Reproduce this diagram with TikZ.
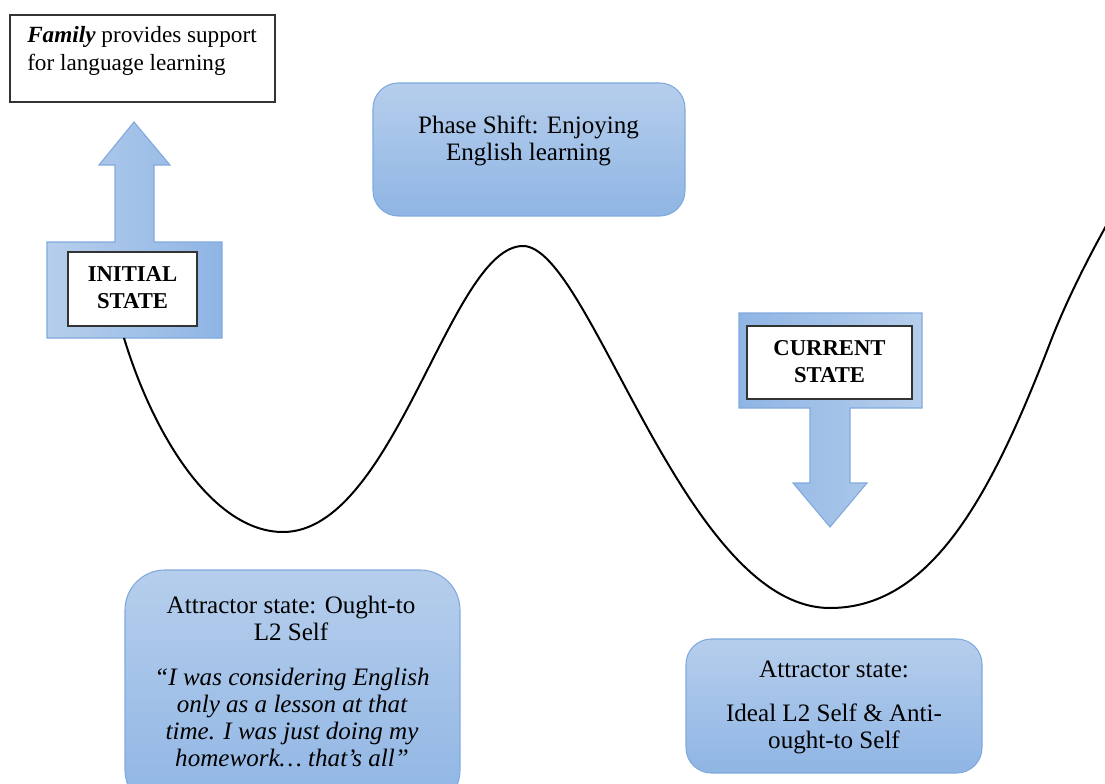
\documentclass[tikz,border=0pt]{standalone}
\usepackage{fontspec}
\setmainfont{Liberation Serif}
\definecolor{bxlight}{RGB}{182,206,236}
\definecolor{bxdark}{RGB}{143,181,228}
\definecolor{bxborder}{RGB}{128,170,222}
\tikzset{
  bluebox/.style={draw=bxborder, line width=0.8pt, top color=bxlight, bottom color=bxdark, inner sep=0pt, outer sep=0pt},
  whitebox/.style={draw=black!80, line width=0.8pt, fill=white, inner sep=0pt, outer sep=0pt},
  bodytext/.style={align=center, font=\fontsize{18.8}{20.4}\selectfont, inner sep=0pt},
  capstext/.style={align=center, font=\fontsize{17}{20.4}\selectfont\bfseries, inner sep=0pt},
  landscape/.style={line width=1.5pt, black},
  callout/.style={draw=bxborder, line width=0.8pt}
}
\begin{document}
\begin{tikzpicture}[x=0.75pt,y=-0.75pt]
\useasboundingbox (0,0) rectangle (1105,784);
\fill[white] (0,0) rectangle (1105,784);

% Family box
\node[whitebox, minimum width=198.75pt, minimum height=65.25pt] (family) at (142.5,58.5) {};
\node[align=left, anchor=west, inner sep=0pt, font=\fontsize{17.4}{21}\selectfont] (familytxt) at (27,51) {\textbf{\textit{Family}} provides support\\for language learning};

% Initial state callout
\path[callout, left color=bxlight, right color=bxdark]
  (47,338) -- (222,338) -- (222,242) -- (154,242) -- (154,165) -- (170,165) -- (134,122)
  -- (99,165) -- (115,165) -- (115,242) -- (47,242) -- cycle;
\node[whitebox, minimum width=96.75pt, minimum height=55.5pt] (initial) at (132.5,289) {};
\node[capstext] (initialtxt) at (132.5,288) {INITIAL\\STATE};

% Current state callout
\path[callout, left color=bxdark, right color=bxlight]
  (739,313) -- (922,313) -- (922,408) -- (850,408) -- (850,483) -- (867,483) -- (830,527)
  -- (793,483) -- (810,483) -- (810,408) -- (739,408) -- cycle;
\node[whitebox, minimum width=123.75pt, minimum height=54.75pt] (current) at (829.5,362.5) {};
\node[capstext] (currenttxt) at (829.5,362) {CURRENT\\STATE};

% Phase shift box
\node[bluebox, rounded corners=19pt, minimum width=234pt, minimum height=99.75pt] (phase) at (529,149.5) {};
\node[bodytext] (phasetxt) at (528.5,141) {Phase Shift: Enjoying\\English learning};

% Left attractor box
\node[bluebox, rounded corners=30pt, minimum width=251.25pt, minimum height=180pt] (attrL) at (292.5,690) {};
\node[bodytext] (attrLtitle) at (291,618.5) {Attractor state: Ought-to\\L2 Self};
\node[bodytext, font=\fontsize{18.8}{20.4}\selectfont\itshape] (attrLquote) at (292,717.5) {“I was considering English\\only as a lesson at that\\time. I was just doing my\\homework… that’s all”};

% Right attractor box
\node[bluebox, rounded corners=19pt, minimum width=222pt, minimum height=100.5pt] (attrR) at (834,706) {};
\node[bodytext] (attrRtitle) at (834,669) {Attractor state:};
\node[bodytext] (attrRbody) at (834,728.5) {Ideal L2 Self \& Anti-\\ought-to Self};

% Landscape curve
\coordinate (cstart) at (124,338);
\coordinate (min1) at (283,532);
\coordinate (max1) at (523,246);
\coordinate (min2) at (830,608);
\coordinate (infl) at (1050,343);
\coordinate (cend) at (1106,226);
\draw[landscape] (cstart) .. controls (155,440) and (215,532) .. (min1)
  .. controls (395,532) and (450,246) .. (max1)
  .. controls (590,246) and (684,608) .. (min2)
  .. controls (930,608) and (990,499) .. (infl)
  .. controls (1065,304) and (1086,262) .. (cend);
\end{tikzpicture}
\end{document}
